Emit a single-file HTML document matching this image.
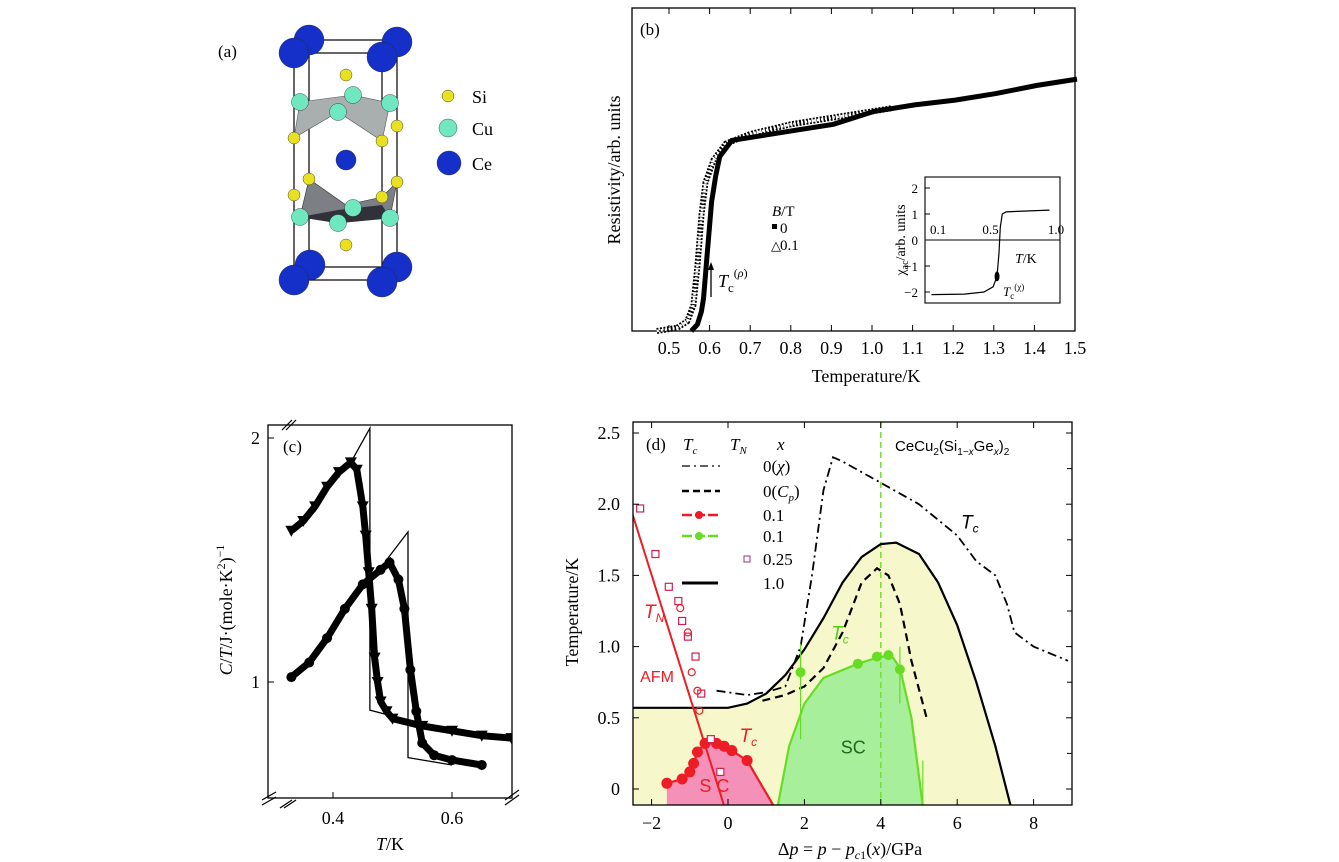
<!DOCTYPE html>
<html><head><meta charset="utf-8"><style>
html,body{margin:0;padding:0;background:#fff;}
svg{display:block;font-family:"Liberation Serif",serif;}
.sans{font-family:"Liberation Sans",sans-serif;}
</style></head><body>
<svg id="fig" width="1339" height="862" viewBox="0 0 1339 862">
<defs><clipPath id="clipd"><rect x="633" y="422" width="439" height="383"/></clipPath>
<clipPath id="clipc"><rect x="268" y="425" width="244" height="373"/></clipPath></defs>
<!-- Panel a -->
<g id="pa">
<text x="218" y="57" font-size="17">(a)</text>
<g stroke="#000" stroke-width="1.2" fill="none">
<rect x="294" y="53" width="88" height="227"/><rect x="309" y="40" width="88" height="227"/>
<line x1="294" y1="53" x2="309" y2="40"/><line x1="382" y1="53" x2="397" y2="40"/>
<line x1="294" y1="280" x2="309" y2="267"/><line x1="382" y1="280" x2="397" y2="267"/></g>
<polygon points="300,102 353,95 390,103 382,141 338,112 294,138" fill="#a9aeae" stroke="#555" stroke-width="0.6"/>
<polygon points="300,217 309,179 346,205 382,197 397,182 390,218 338,223" fill="#7c8084" stroke="#333" stroke-width="0.6"/>
<polygon points="300,217 338,223 390,218 382,205 338,210" fill="#2f3238"/>
<g id="atoms"></g>
<text x="472" y="103" font-size="18">Si</text>
<text x="472" y="135" font-size="18">Cu</text>
<text x="472" y="170" font-size="18">Ce</text>
</g>
<!-- Panel b -->
<g id="pb">
<rect x="632" y="8" width="443" height="323" fill="none" stroke="#000" stroke-width="1.3"/>
<text x="640" y="35" font-size="17">(b)</text>
<text transform="translate(620,170) rotate(-90)" text-anchor="middle" font-size="18">Resistivity/arb. units</text>
<text x="866" y="382" text-anchor="middle" font-size="18">Temperature/K</text>
<text x="772" y="216" font-size="15"><tspan font-style="italic">B</tspan>/T</text>
<rect x="772" y="224" width="5" height="5" fill="#000"/>
<text x="780" y="233" font-size="15">0</text>
<text x="771" y="250" font-size="13">△</text>
<text x="780" y="250" font-size="15">0.1</text>
<line x1="711" y1="297" x2="711" y2="266" stroke="#000" stroke-width="1.3"/>
<polygon points="711,262 708,270 714,270" fill="#000"/>
<text x="718" y="287" font-size="18"><tspan font-style="italic">T</tspan><tspan font-size="13" dy="5">c</tspan><tspan font-size="12" dy="-15">(<tspan font-style="italic">ρ</tspan>)</tspan></text>
<rect x="925" y="177" width="135" height="126" fill="#fff" stroke="#000" stroke-width="1.1"/>
<text transform="translate(905,240) rotate(-90)" text-anchor="middle" font-size="14">χ<tspan font-size="10" dy="3">ac</tspan><tspan dy="-3">/arb. units</tspan></text>
<text x="1015" y="263" font-size="14"><tspan font-style="italic">T</tspan>/K</text>
<text x="1003" y="296" font-size="13"><tspan font-style="italic">T</tspan><tspan font-size="9" dy="3">c</tspan><tspan font-size="9" dy="-9">(χ)</tspan></text>
<g id="pbg"></g>
</g>
<!-- Panel c -->
<g id="pc">
<rect x="268" y="425" width="244" height="373" fill="none" stroke="#000" stroke-width="1.3"/>
<g stroke="#000" stroke-width="1.2">
<line x1="262" y1="800" x2="276" y2="792"/><line x1="262" y1="805" x2="276" y2="797"/>
<line x1="280" y1="808" x2="292" y2="800"/><line x1="284" y1="808" x2="296" y2="800"/>
<line x1="505" y1="800" x2="519" y2="790"/><line x1="505" y1="805" x2="519" y2="795"/>
<line x1="282" y1="430" x2="292" y2="420"/><line x1="286" y1="430" x2="296" y2="420"/></g>
<text x="283" y="452" font-size="17">(c)</text>
<text transform="translate(232,610) rotate(-90)" text-anchor="middle" font-size="18"><tspan font-style="italic">C</tspan>/<tspan font-style="italic">T</tspan>/J·(mole·K<tspan font-size="12" dy="-7">2</tspan><tspan dy="7">)</tspan><tspan font-size="12" dy="-8">−1</tspan></text>
<text x="390" y="850" text-anchor="middle" font-size="18"><tspan font-style="italic">T</tspan>/K</text>
<g id="pcg" clip-path="url(#clipc)"></g><g id="pct"></g>
</g>
<!-- Panel d -->
<g id="pd">
<g id="pdg" clip-path="url(#clipd)"></g>
<rect x="633" y="422" width="439" height="383" fill="none" stroke="#000" stroke-width="1.3"/>
<g id="pdt"></g>
<text transform="translate(578,612) rotate(-90)" text-anchor="middle" font-size="18">Temperature/K</text>
<text x="850" y="855" text-anchor="middle" font-size="18">Δ<tspan font-style="italic">p</tspan> = <tspan font-style="italic">p</tspan> − <tspan font-style="italic">p</tspan><tspan font-size="12" dy="4" font-style="italic">c</tspan><tspan font-size="12">1</tspan><tspan dy="-4">(</tspan><tspan font-style="italic">x</tspan>)/GPa</text>
<text x="646" y="450" font-size="17">(d)</text>
<text x="683" y="450" font-size="17" font-style="italic">T<tspan font-size="11" dy="4">c</tspan></text>
<text x="730" y="450" font-size="17" font-style="italic">T<tspan font-size="11" dy="4">N</tspan></text>
<text x="777" y="450" font-size="17" font-style="italic">x</text>
<line x1="682" y1="466" x2="720" y2="466" stroke="#000" stroke-width="1.3" stroke-dasharray="8,4,2,4"/>
<line x1="682" y1="491" x2="720" y2="491" stroke="#000" stroke-width="2.5" stroke-dasharray="7,4"/>
<line x1="682" y1="515" x2="720" y2="515" stroke="#ee1c24" stroke-width="2.5" stroke-dasharray="10,3"/>
<circle cx="699" cy="515" r="4" fill="#ee1c24"/>
<line x1="682" y1="536" x2="720" y2="536" stroke="#66dd22" stroke-width="2.5" stroke-dasharray="10,3"/>
<circle cx="699" cy="536" r="4" fill="#66dd22"/>
<rect x="744" y="556" width="6" height="6" fill="#fff" stroke="#a03070" stroke-width="1"/>
<line x1="682" y1="583" x2="718" y2="583" stroke="#000" stroke-width="3"/>
<g font-size="17">
<text x="763" y="472">0(<tspan font-style="italic">χ</tspan>)</text>
<text x="763" y="497">0(<tspan font-style="italic">C</tspan><tspan font-size="11" dy="4" font-style="italic">p</tspan><tspan dy="-4">)</tspan></text>
<text x="763" y="521">0.1</text><text x="763" y="542">0.1</text>
<text x="763" y="565">0.25</text><text x="763" y="589">1.0</text></g>
<text x="895" y="451" font-size="15" class="sans">CeCu<tspan font-size="10" dy="4">2</tspan><tspan dy="-4">(Si</tspan><tspan font-size="10" dy="4">1−</tspan><tspan font-size="10" font-style="italic">x</tspan><tspan dy="-4">Ge</tspan><tspan font-size="10" dy="4" font-style="italic">x</tspan><tspan dy="-4">)</tspan><tspan font-size="10" dy="4">2</tspan></text>
</g>
</svg>
<script>
const NS='http://www.w3.org/2000/svg';
function mk(tag,attrs,parent){const e=document.createElementNS(NS,tag);for(const k in attrs)e.setAttribute(k,attrs[k]);parent.appendChild(e);return e;}
function txt(s,attrs,parent){const e=mk('text',attrs,parent);e.textContent=s;return e;}
function pathOf(xs,ys,fx,fy){return xs.map((v,i)=>(i?'L':'M')+fx(v).toFixed(1)+','+fy(ys[i]).toFixed(1)).join(' ');}

/* ---------- Panel a atoms ---------- */
const ceX=[309,397,294,382,346,310,397,294,382];
const ceY=[40,42,53,57,160,265,267,280,282];
const ceR=[15,15,15,15,10,15,15,15,15];
const siX=[346,294,382,397,309,397,294,382,346];
const siY=[75,138,141,126,179,182,195,197,245];
const cuX=[300,353,390,338,300,353,390,338];
const cuY=[102,95,103,112,217,208,218,223];
const ga=document.getElementById('atoms');
function sphere(x,y,r,fill,name){const c=mk('circle',{cx:x,cy:y,r:r,fill:fill,stroke:'#223',"stroke-width":0.4},ga);

}
cuX.forEach((x,i)=>sphere(x,cuY[i],8.5,'#6fe8c0','cu-atom'));
siX.forEach((x,i)=>sphere(x,siY[i],6,'#e8e020','si-atom'));
ceX.forEach((x,i)=>sphere(x,ceY[i],ceR[i],'#1430c8','ce-atom'));
sphere(448,96,6,'#e8e020','legend-si-sphere');
sphere(448,128,9,'#6fe8c0','legend-cu-sphere');
sphere(449,163,12,'#1430c8','legend-ce-sphere');

/* ---------- Panel b ---------- */
const bTicks=[0.5,0.6,0.7,0.8,0.9,1.0,1.1,1.2,1.3,1.4,1.5];
const bT0=[0.55,0.565,0.575,0.58,0.59,0.6,0.61,0.62,0.65,0.7,0.8,0.9,1.0,1.1,1.2,1.3,1.4,1.5];
const bR0=[0,2,6,10,25,40,48,54,59,60,62,64,68,70,71.5,73.5,76,78];
const bT1=[0.47,0.52,0.545,0.56,0.57,0.58,0.59,0.61,0.64,0.7,0.8,0.9,1.0,1.05];
const bR1=[0,1,3,8,20,36,46,53,58,61,64,66,68,69];
const inT=[0.05,0.3,0.45,0.52,0.55,0.565,0.575,0.59,0.62,0.7,0.95];
const inV=[-2.1,-2.08,-2.0,-1.8,-1.4,-0.5,0.5,1.0,1.08,1.1,1.15];
const inTicks=[0.1,0.5,1.0];
const inYTicks=[-2,-1,0,1,2];
const bx=T=>669+(T-0.5)*406, by=v=>331-v*3.23;
const ix=T=>925+T*131, iy=v=>240-v*26;
const gb=document.getElementById('pbg');
bTicks.forEach(t=>{
 const l=mk('line',{x1:bx(t),x2:bx(t),y1:331,y2:325,stroke:'#000'},gb);
 
 
 const l2=mk('line',{x1:bx(t),x2:bx(t),y1:8,y2:14,stroke:'#000'},gb);
 
 
 const s=txt(t.toFixed(1),{x:bx(t),y:354,"text-anchor":"middle","font-size":18},gb);
 
 
});
const p1=mk('path',{d:pathOf(bT1,bR1,bx,by),fill:'none',stroke:'#000',"stroke-width":6,"stroke-dasharray":"2,1.5"},gb);


const p1w=mk('path',{d:pathOf(bT1,bR1,bx,by),fill:'none',stroke:'#fff',"stroke-width":2.5,"stroke-dasharray":"2,2"},gb);


const p0=mk('path',{d:pathOf(bT0,bR0,x=>bx(x)+2,by),fill:'none',stroke:'#000',"stroke-width":5},gb);


inTicks.forEach(t=>{
 const s=txt(t.toFixed(1),{x:ix(t),y:234,"text-anchor":"middle","font-size":13},gb);
 
 
});
inYTicks.forEach(v=>{
 const s=txt(v<0?'−'+(-v):String(v),{x:918,y:iy(v)+5,"text-anchor":"end","font-size":13},gb);
 
 
 const l=mk('line',{x1:925,x2:930,y1:iy(v),y2:iy(v),stroke:'#000'},gb);
 
 
});
const z=mk('line',{x1:925,x2:1060,y1:iy(0),y2:iy(0),stroke:'#000'},gb);


const ic=mk('path',{d:pathOf(inT,inV,ix,iy),fill:'none',stroke:'#000',"stroke-width":1.2},gb);


const im=mk('ellipse',{cx:ix(inT[4]),cy:iy(inV[4]),rx:2.5,ry:5,fill:'#000'},gb);



/* ---------- Panel c ---------- */
const cTicks=[0.4,0.6];
const cYTicks=[1,2];
const cTa=[0.33,0.35,0.37,0.39,0.41,0.43,0.44,0.45,0.455,0.46,0.465,0.47,0.475,0.48,0.49,0.5,0.55,0.6,0.65,0.7];
const cVa=[1.62,1.66,1.72,1.8,1.86,1.9,1.87,1.72,1.6,1.45,1.3,1.1,1.0,0.92,0.88,0.85,0.82,0.8,0.78,0.77];
const cTb=[0.33,0.36,0.39,0.42,0.45,0.48,0.495,0.51,0.52,0.53,0.54,0.55,0.57,0.6,0.65];
const cVb=[1.02,1.08,1.18,1.3,1.4,1.46,1.49,1.42,1.3,1.05,0.88,0.75,0.7,0.68,0.66];
const cLaT=[0.43,0.462,0.462,0.53];
const cLaV=[1.9,2.04,0.885,0.84];
const cLbT=[0.49,0.526,0.526,0.6];
const cLbV=[1.5,1.615,0.69,0.66];
const cx=T=>333+(T-0.4)*595, cy=v=>682-(v-1)*244;
const gc=document.getElementById('pcg'), gct=document.getElementById('pct');
cTicks.forEach(t=>{
 const l=mk('line',{x1:cx(t),x2:cx(t),y1:798,y2:792,stroke:'#000'},gct);
 
 
 const s=txt(t.toFixed(1),{x:cx(t),y:824,"text-anchor":"middle","font-size":18},gct);
 
 
});
cYTicks.forEach(v=>{
 const l=mk('line',{x1:268,x2:274,y1:cy(v),y2:cy(v),stroke:'#000'},gct);
 
 
 const s=txt(String(v),{x:260,y:cy(v)+6,"text-anchor":"end","font-size":18},gct);
 
 
});
[cLaT,cLbT].forEach((arr,k)=>{const vv=k?cLbV:cLaV;
 const l=mk('path',{d:pathOf(arr,vv,cx,cy),fill:'none',stroke:'#000',"stroke-width":1.3},gc);
 
 
});
const ca=mk('path',{d:pathOf(cTa,cVa,cx,cy),fill:'none',stroke:'#000',"stroke-width":7},gc);


const cb=mk('path',{d:pathOf(cTb,cVb,cx,cy),fill:'none',stroke:'#000',"stroke-width":7},gc);


cTa.forEach((t,i)=>{const X=cx(t),Y=cy(cVa[i]);
 const m=mk('polygon',{points:`${X-6},${Y-5} ${X+6},${Y-5} ${X},${Y+6}`,fill:'#000'},gc);
 
 });
cTb.forEach((t,i)=>{
 const m=mk('circle',{cx:cx(t),cy:cy(cVb[i]),r:5,fill:'#000'},gc);
 
 });

/* ---------- Panel d ---------- */
const dXTicks=[-2,0,2,4,6,8];
const dYTicks=[0,0.5,1.0,1.5,2.0,2.5];
const solidP=[-2.7,-1,0,0.5,1,1.5,2,2.5,3,3.5,4,4.4,5,5.5,6,6.5,7,7.4];
const solidT=[0.57,0.57,0.57,0.6,0.67,0.8,0.98,1.2,1.45,1.63,1.72,1.73,1.65,1.45,1.15,0.75,0.3,-0.12];
const cpP=[0.9,1.5,2,2.5,3,3.5,3.9,4.2,4.5,4.8,5.2];
const cpT=[0.62,0.66,0.72,0.85,1.1,1.45,1.55,1.5,1.3,0.9,0.5];
const chiP=[-0.3,0.5,1,1.5,1.9,2.2,2.5,2.75,3.0,4,5,6,6.5,7,7.3,7.5,8,8.9];
const chiT=[0.69,0.66,0.68,0.72,1.0,1.5,2.1,2.33,2.3,2.15,2.0,1.78,1.6,1.5,1.3,1.1,1.0,0.9];
const grP=[1.3,1.6,2,2.5,3.4,4.0,4.3,4.5,4.8,5.1];
const grT=[-0.12,0.3,0.6,0.78,0.88,0.93,0.93,0.85,0.5,-0.12];
const grMP=[1.9,3.4,3.9,4.2,4.5];
const grMT=[0.82,0.88,0.93,0.94,0.84];
const grErrLo=[0.35,0.88,0.93,0.94,0.6];
const grErrHi=[1.02,0.88,0.93,0.94,1.0];
const rdP=[-1.6,-1.2,-1.0,-0.9,-0.8,-0.6,-0.3,-0.1,0.1,0.5,1.2];
const rdT=[0.04,0.07,0.12,0.18,0.26,0.32,0.32,0.3,0.27,0.2,-0.12];
const tnP=[-2.7,-0.1];
const tnT=[2.1,-0.12];
const sqP=[-2.3,-1.9,-1.55,-1.3,-1.2,-1.05,-0.85,-0.7,-0.45,-0.2];
const sqT=[1.97,1.65,1.42,1.32,1.18,1.07,0.93,0.67,0.35,0.12];
const ocP=[-1.25,-1.05,-0.95,-0.8,-0.75];
const ocT=[1.27,1.1,0.82,0.69,0.55];
const dx=p=>728+p*38.2, dy=t=>789-t*142.4;
const gd=document.getElementById('pdg'), gdt=document.getElementById('pdt');
function fillUnder(P,T,color,name){
 let d=pathOf(P,T,dx,dy)+` L${dx(P[P.length-1])},810 L${dx(P[0])},810 Z`;
 const f=mk('path',{d:d,fill:color,stroke:'none'},gd);
 
 
}
fillUnder(solidP,solidT,'#f6f8cc','yellow-region');
fillUnder(grP,grT,'#a8ef9c','green-sc-region');
fillUnder(rdP,rdT,'#f590b8','pink-sc-region');
const vl=mk('line',{x1:dx(4),x2:dx(4),y1:422,y2:805,stroke:'#77dd33',"stroke-width":1.5,"stroke-dasharray":"6,4"},gd);


const ls=mk('path',{d:pathOf(solidP,solidT,dx,dy),fill:'none',stroke:'#000',"stroke-width":2.2},gd);


const lcp=mk('path',{d:pathOf(cpP,cpT,dx,dy),fill:'none',stroke:'#000',"stroke-width":2.2,"stroke-dasharray":"8,5"},gd);


const lchi=mk('path',{d:pathOf(chiP,chiT,dx,dy),fill:'none',stroke:'#000',"stroke-width":1.8,"stroke-dasharray":"9,4,2,4"},gd);


const lg=mk('path',{d:pathOf(grP,grT,dx,dy),fill:'none',stroke:'#66dd22',"stroke-width":2.2},gd);


grMP.forEach((p,i)=>{
 const e=mk('line',{x1:dx(p),x2:dx(p),y1:dy(grErrLo[i]),y2:dy(grErrHi[i]),stroke:'#66dd22',"stroke-width":1.2},gd);
 
 
 const m=mk('circle',{cx:dx(p),cy:dy(grMT[i]),r:5,fill:'#66dd22'},gd);
 
 
});
const eb=mk('line',{x1:dx(5.1),x2:dx(5.1),y1:dy(-0.1),y2:dy(0.2),stroke:'#66dd22',"stroke-width":1.2},gd);


const lr=mk('path',{d:pathOf(rdP,rdT,dx,dy),fill:'none',stroke:'#ee1c24',"stroke-width":2.2},gd);


rdP.slice(0,-1).forEach((p,i)=>{
 const m=mk('circle',{cx:dx(p),cy:dy(rdT[i]),r:5.5,fill:'#ee1c24'},gd);
 
 
});
const ltn=mk('path',{d:pathOf(tnP,tnT,dx,dy),fill:'none',stroke:'#ee1c24',"stroke-width":2},gd);


sqP.forEach((p,i)=>{
 const m=mk('rect',{x:dx(p)-3.5,y:dy(sqT[i])-3.5,width:7,height:7,fill:'#fff',stroke:'#d02050',"stroke-width":1.2},gd);
 
 
});
ocP.forEach((p,i)=>{
 const m=mk('circle',{cx:dx(p),cy:dy(ocT[i]),r:3.5,fill:'none',stroke:'#ee1c24',"stroke-width":1.2},gd);
 
 
});
function lab(s,p,t,col,italic,name,size){
 const e=txt(s,{x:dx(p),y:dy(t),fill:col,"font-size":size||17,class:'sans',"font-style":italic?'italic':'normal'},gd);
 
 
 return e;}
const t1=lab('T',-2.2,1.2,'#ee1c24',true,'tn-label',19);
const t1s=mk('tspan',{"font-size":12,dy:4},t1); t1s.textContent='N';
lab('AFM',-2.3,0.75,'#ee1c24',false,'afm-label',16);
const t2=lab('T',0.3,0.33,'#ee1c24',true,'tc-red-label',19);
const t2s=mk('tspan',{"font-size":12,dy:4},t2); t2s.textContent='c';
lab('S C',-0.75,-0.02,'#ee1c24',false,'sc-red-label',18);
lab('SC',2.95,0.25,'#226622',false,'sc-green-label',18);
const t3=lab('T',2.7,1.05,'#55cc11',true,'tc-green-label',19);
const t3s=mk('tspan',{"font-size":12,dy:4},t3); t3s.textContent='c';
const t4=lab('T',6.1,1.83,'#000',true,'tc-black-label',19);
const t4s=mk('tspan',{"font-size":12,dy:4},t4); t4s.textContent='c';
dXTicks.forEach(p=>{
 const l=mk('line',{x1:dx(p),x2:dx(p),y1:805,y2:799,stroke:'#000'},gdt);
 
 
 const l2=mk('line',{x1:dx(p),x2:dx(p),y1:422,y2:428,stroke:'#000'},gdt);
 
 
 const s=txt(p<0?'−'+(-p):String(p),{x:dx(p),y:829,"text-anchor":"middle","font-size":18},gdt);
 
 
});
dYTicks.forEach(t=>{
 const l=mk('line',{x1:633,x2:639,y1:dy(t),y2:dy(t),stroke:'#000'},gdt);
 
 
 const l2=mk('line',{x1:1072,x2:1066,y1:dy(t),y2:dy(t),stroke:'#000'},gdt);
 
 
 if(t<2.5){
 const l3=mk('line',{x1:1072,x2:1067,y1:dy(t+0.25),y2:dy(t+0.25),stroke:'#000'},gdt);
 
 
 }
 const s=txt(t===0?'0':t.toFixed(1),{x:620,y:dy(t)+6,"text-anchor":"end","font-size":18},gdt);
 
 
});
</script>
</body></html>
